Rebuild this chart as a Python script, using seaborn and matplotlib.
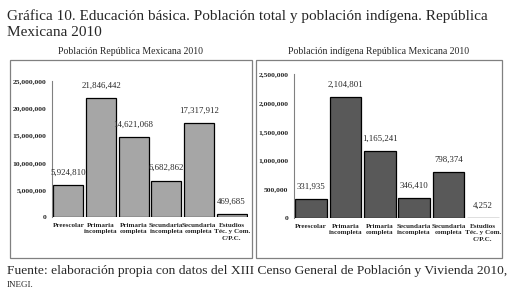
import matplotlib
matplotlib.use("Agg")
import matplotlib.pyplot as plt
import seaborn as sns
from matplotlib.patches import Rectangle
from matplotlib.ticker import FuncFormatter

categorias = ["Preescolar", "Primaria\nincompleta", "Primaria\ncompleta",
              "Secundaria\nincompleta", "Secundaria\ncompleta",
              "Estudios\nTéc. y Com.\nC/P.C."]
poblacion_total = [5924810, 21846442, 14621068, 6682862, 17317912, 469685]
poblacion_indigena = [331935, 2104801, 1165241, 346410, 798374, 4252]
ticks_total = [0, 5000000, 10000000, 15000000, 20000000, 25000000]
ticks_indigena = [0, 500000, 1000000, 1500000, 2000000, 2500000]

sns.set_theme(style="white")
plt.rcParams["font.family"] = ["Liberation Serif", "DejaVu Serif"]

W, H = 510, 296
fig = plt.figure(figsize=(W / 100, H / 100), dpi=100)
fig.patch.set_facecolor("white")

def fx(x):
    return x / W

def fy(y):
    return 1 - y / H

# Titles
fig.text(fx(7), fy(16), "Gráfica 10. Educación básica. Población total y población indígena. República",
         fontsize=10.95, va="center", ha="left")
fig.text(fx(7), fy(33), "Mexicana 2010", fontsize=10.95, va="center", ha="left")

# Boxes
for (x0, y0, x1, y1) in [(10, 60, 252, 258), (256, 60, 502, 258)]:
    fig.patches.append(Rectangle((fx(x0), fy(y1)), fx(x1 - x0), (y1 - y0) / H,
                                 transform=fig.transFigure, fill=False,
                                 edgecolor="#808080", linewidth=0.9))

fig.text(fx(131), fy(52), "Población República Mexicana 2010", fontsize=7, ha="center", va="center")
fig.text(fx(379), fy(52), "Población indígena República Mexicana 2010", fontsize=7, ha="center", va="center")

def panel(rect, values, ticks, color):
    ax = fig.add_axes(rect)
    sns.barplot(x=categorias, y=values, color=color, edgecolor="black",
                linewidth=0.9, width=0.92, saturation=1, ax=ax)
    ax.set_ylim(0, ticks[-1])
    ax.set_yticks(ticks)
    ax.yaxis.set_major_formatter(FuncFormatter(lambda v, p: f"{int(v):,}"))
    ax.set_xlim(-0.5, len(categorias) - 0.5)
    for s in ["top", "right", "bottom"]:
        ax.spines[s].set_visible(False)
    ax.spines["left"].set_color("#808080")
    ax.spines["left"].set_linewidth(0.8)
    ax.tick_params(axis="y", length=0, pad=4)
    ax.tick_params(axis="x", length=0, pad=4)
    for lab in ax.get_yticklabels():
        lab.set_fontsize(5.4)
        lab.set_fontweight("bold")
    for lab in ax.get_xticklabels():
        lab.set_fontsize(5.1)
        lab.set_fontweight("bold")
        lab.set_linespacing(1.4)
    ax.bar_label(ax.containers[0], labels=[f"{v:,}" for v in values],
                 fontsize=6.3, padding=6)
    ax.set_xlabel("")
    ax.set_ylabel("")
    ax.patch.set_alpha(0)
    return ax

panel([fx(52), fy(217), fx(248 - 52), (217 - 81) / H], poblacion_total, ticks_total, "#a6a6a6")
panel([fx(294), fy(218), fx(500 - 294), (218 - 74) / H], poblacion_indigena, ticks_indigena, "#595959")

fig.text(fx(7), fy(271), "Fuente: elaboración propia con datos del XIII Censo General de Población y Vivienda 2010,",
         fontsize=9.7, ha="left", va="center")
fig.text(fx(7), fy(285), "INEGI.", fontsize=6.5, ha="left", va="center")

fig.savefig("out.png", dpi=100)
